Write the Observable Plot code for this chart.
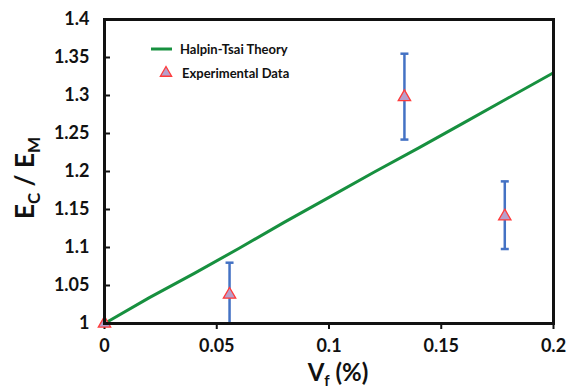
<!DOCTYPE html>
<html>
<head>
<meta charset="utf-8">
<script src="https://cdn.jsdelivr.net/npm/d3@7"></script>
<script src="https://cdn.jsdelivr.net/npm/@observablehq/plot@0.6"></script>
<style>
  html, body { margin: 0; padding: 0; background: #fff; }
  #chart svg { display: block; }
</style>
</head>
<body>
<div id="chart"></div>
<script>
// Tick values and labels
const xTicks = [0, 0.05, 0.1, 0.15, 0.2];
const xTickLabels = ["0", "0.05", "0.1", "0.15", "0.2"];
const yTicks = [1, 1.05, 1.1, 1.15, 1.2, 1.25, 1.3, 1.35, 1.4];
const yTickLabels = ["1", "1.05", "1.1", "1.15", "1.2", "1.25", "1.3", "1.35", "1.4"];

// Halpin-Tsai theory curve
const theoryVf = [0, 0.02, 0.04, 0.06, 0.08, 0.1, 0.12, 0.14, 0.16, 0.18, 0.2];
const theoryE  = [1.0, 1.034, 1.066, 1.099, 1.133, 1.166, 1.199, 1.231, 1.264, 1.297, 1.33];

// Experimental data
const expVf  = [0, 0.0557, 0.1336, 0.1783];
const expE   = [1.0, 1.038, 1.298, 1.141];
const expLo  = [1.0, 1.0, 1.242, 1.098];
const expHi  = [1.0, 1.080, 1.355, 1.187];

const legendLabels = ["Halpin-Tsai Theory", "Experimental Data"];

const theory = theoryVf.map((x, i) => ({x, y: theoryE[i]}));
const exp = expVf.map((x, i) => ({x, y: expE[i], lo: expLo[i], hi: expHi[i]}));
const bars = exp.filter(d => d.hi > d.lo);

const GREEN = "#17903f";
const BLUE = "#4472c4";
const TRI_FILL = "#b79fcb";
const TRI_STROKE = "#ff3b3b";
const FONT = "Lato, 'Open Sans', sans-serif";

const capSymbol = {
  draw(context, size) {
    context.moveTo(-4, 0);
    context.lineTo(4, 0);
  }
};

const chart = Plot.plot({
  width: 568,
  height: 388,
  marginLeft: 104,
  marginRight: 15,
  marginTop: 19,
  marginBottom: 65,
  style: {fontFamily: FONT, fontWeight: "bold", fontSize: "18px", color: "#111", background: "#fff"},
  x: {domain: [0, 0.2]},
  y: {domain: [1, 1.4]},
  marks: [
    Plot.axisY({ticks: yTicks, tickSize: -6, strokeWidth: 2, tickFormat: () => "", label: null}),
    Plot.axisY({ticks: yTicks, tickSize: 0, tickPadding: 15, fontSize: 18, fill: "#111",
                tickFormat: (d, i) => yTickLabels[i], label: null}),
    Plot.axisX({ticks: xTicks, tickSize: 6, strokeWidth: 2, tickFormat: () => "", label: null}),
    Plot.axisX({ticks: xTicks, tickSize: 0, tickPadding: 16, fontSize: 18, fill: "#111",
                tickFormat: (d, i) => xTickLabels[i], label: null}),
    Plot.line(theory, {x: "x", y: "y", stroke: GREEN, strokeWidth: 3}),
    Plot.ruleX(bars, {x: "x", y1: "lo", y2: "hi", stroke: BLUE, strokeWidth: 2.5}),
    Plot.dot(bars, {x: "x", y: "hi", symbol: capSymbol, stroke: BLUE, strokeWidth: 2.5, fill: "none"}),
    Plot.dot(bars, {x: "x", y: "lo", symbol: capSymbol, stroke: BLUE, strokeWidth: 2.5, fill: "none"}),
    Plot.dot(exp, {x: "x", y: "y", symbol: "triangle", r: 4.6, fill: TRI_FILL, stroke: TRI_STROKE, strokeWidth: 1.3}),
    Plot.frame({stroke: "#111", strokeWidth: 3})
  ]
});

const svg = d3.select(chart);

// Y axis label with subscripts
const yl = svg.append("text")
  .attr("transform", "translate(34,178) rotate(-90)")
  .attr("text-anchor", "middle")
  .attr("font-family", FONT).attr("font-weight", "bold").attr("font-size", 26).attr("fill", "#111");
yl.append("tspan").text("E");
yl.append("tspan").attr("font-size", 17).attr("dy", 6).text("C");
yl.append("tspan").attr("dy", -6).text(" / E");
yl.append("tspan").attr("font-size", 17).attr("dy", 6).text("M");

// X axis label with subscript
const xl = svg.append("text")
  .attr("x", 338).attr("y", 381)
  .attr("text-anchor", "middle")
  .attr("font-family", FONT).attr("font-weight", "bold").attr("font-size", 24).attr("fill", "#111");
xl.append("tspan").text("V");
xl.append("tspan").attr("font-size", 15).attr("dy", 5).text("f");
xl.append("tspan").attr("dy", -5).text(" (%)");

// Legend
const lg = svg.append("g").attr("font-family", FONT).attr("font-weight", "bold").attr("font-size", 13)
  .attr("fill", "#111").attr("text-anchor", "start");
lg.append("line").attr("x1", 151).attr("x2", 172).attr("y1", 49).attr("y2", 49)
  .attr("stroke", GREEN).attr("stroke-width", 3);
lg.append("text").attr("x", 180).attr("y", 49).attr("dy", "0.35em").text(legendLabels[0]);
lg.append("path").attr("transform", "translate(166,73)")
  .attr("d", d3.symbol(d3.symbolTriangle, 55)())
  .attr("fill", TRI_FILL).attr("stroke", TRI_STROKE).attr("stroke-width", 1.3);
lg.append("text").attr("x", 182).attr("y", 73).attr("dy", "0.35em").text(legendLabels[1]);

document.getElementById("chart").appendChild(chart);
</script>
</body>
</html>
